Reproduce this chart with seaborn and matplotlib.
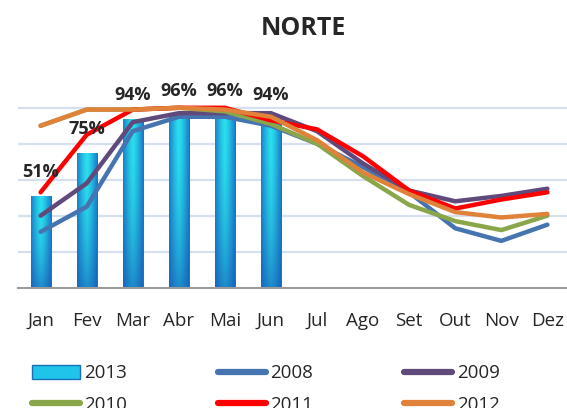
import matplotlib
matplotlib.use("Agg")
import matplotlib.pyplot as plt
import seaborn as sns
import numpy as np
import pandas as pd
from matplotlib.patches import Patch
from matplotlib.lines import Line2D

months = ["Jan", "Fev", "Mar", "Abr", "Mai", "Jun", "Jul", "Ago", "Set", "Out", "Nov", "Dez"]
bars_2013 = [51, 75, 94, 96, 96, 94]
y2008 = [31, 45, 87, 95, 95, 90, 80, 67, 53, 33, 26, 35]
y2009 = [40, 58, 92, 97, 97, 97, 87, 69, 54, 48, 51, 55]
y2010 = [90, 99, 99, 100, 98, 91, 80, 62, 46, 37, 32, 40]
y2011 = [53, 85, 99, 100, 100, 93, 88, 73, 54, 44, 49, 53]
y2012 = [90, 99, 99, 100, 99, 95, 82, 64, 52, 42, 39, 41]

series = {"2008": y2008, "2009": y2009, "2010": y2010, "2011": y2011, "2012": y2012}
colors = {"2008": "#4674b0", "2009": "#604a7b", "2010": "#8aa64a",
          "2011": "#ff0000", "2012": "#e0823a"}

sns.set_style("white")
plt.rcParams["font.family"] = ["Open Sans", "DejaVu Sans"]

bar_df = pd.DataFrame({"mes": months[:6], "valor": bars_2013})
line_df = pd.DataFrame([(m, ano, v) for ano, vals in series.items() for m, v in zip(months, vals)],
                       columns=["mes", "ano", "valor"])
line_df["mes"] = pd.Categorical(line_df["mes"], categories=months, ordered=True)

fig = plt.figure(figsize=(5.67, 4.08), dpi=100)
ax = fig.add_axes([0.031, 0.295, 0.975, 0.529])

sns.barplot(data=bar_df, x="mes", y="valor", order=months, width=0.43,
            color="#1e9be0", ax=ax, zorder=2)

# gradient fill for the bars (cyan centre, blue edges, darker bottom)
h = np.abs(np.linspace(-1, 1, 64))[None, :]
v = np.linspace(0, 1, 64)[:, None]
c_mid = np.array([0.17, 0.88, 0.93])
c_edge = np.array([0.10, 0.50, 0.80])
c_bot = np.array([0.08, 0.33, 0.70])
mix = (h ** 1.3)[..., None]
base = c_mid * (1 - mix) + c_edge * mix
grad = base * (1 - v[..., None] ** 2 * 0.6) + c_bot * (v[..., None] ** 2 * 0.6)
for p in ax.patches:
    x0, y0 = p.get_x(), p.get_y()
    w, hh = p.get_width(), p.get_height()
    im = ax.imshow(grad, extent=[x0, x0 + w, y0, y0 + hh], origin="upper",
                   aspect="auto", zorder=2.5)
    im.set_clip_path(p)
    p.set_edgecolor("#1a5fa8")
    p.set_linewidth(0.6)

sns.lineplot(data=line_df, x="mes", y="valor", hue="ano", palette=colors,
             linewidth=3.2, ax=ax, legend=False, zorder=3, sort=False)
for ln in ax.lines:
    ln.set_solid_capstyle("round")
    ln.set_solid_joinstyle("round")

for i, val in enumerate(bars_2013):
    ax.annotate(f"{val}%", (i, val), xytext=(0, 17), textcoords="offset points",
                ha="center", va="center", fontsize=13, fontweight="bold", zorder=5)

ax.set_xlim(-0.5, 11.5)
ax.set_ylim(0, 120)
ax.set_yticks([20, 40, 60, 80, 100])
ax.yaxis.grid(True, color="#d6dff0", linewidth=1.6)
ax.set_axisbelow(True)
ax.set_yticklabels([])
ax.tick_params(axis="y", length=0)
ax.tick_params(axis="x", length=0, labelsize=13.5, pad=17.5)
ax.set_xlabel("")
ax.set_ylabel("")
for s in ["top", "right", "left"]:
    ax.spines[s].set_visible(False)
ax.spines["bottom"].set_color("#9a9a9a")
ax.spines["bottom"].set_linewidth(1.5)

fig.text(0.535, 0.931, "NORTE", ha="center", va="center", fontsize=18, fontweight="bold")

h_bar = Patch(facecolor="#1ec4ea", edgecolor="#1a6fb8", label="2013")
h_lines = {k: Line2D([], [], color=c, linewidth=4.5, solid_capstyle="round", label=k)
           for k, c in colors.items()}
handles = [h_bar, h_lines["2010"], h_lines["2008"], h_lines["2011"], h_lines["2009"], h_lines["2012"]]
fig.legend(handles=handles, loc="upper left", bbox_to_anchor=(0.056, 0.107), ncol=3,
           frameon=False, fontsize=13.5, handlelength=2.55, handleheight=0.75,
           columnspacing=4.85, handletextpad=0.25, labelspacing=0.72,
           borderaxespad=0, borderpad=0)

fig.savefig("out.png", dpi=100)
